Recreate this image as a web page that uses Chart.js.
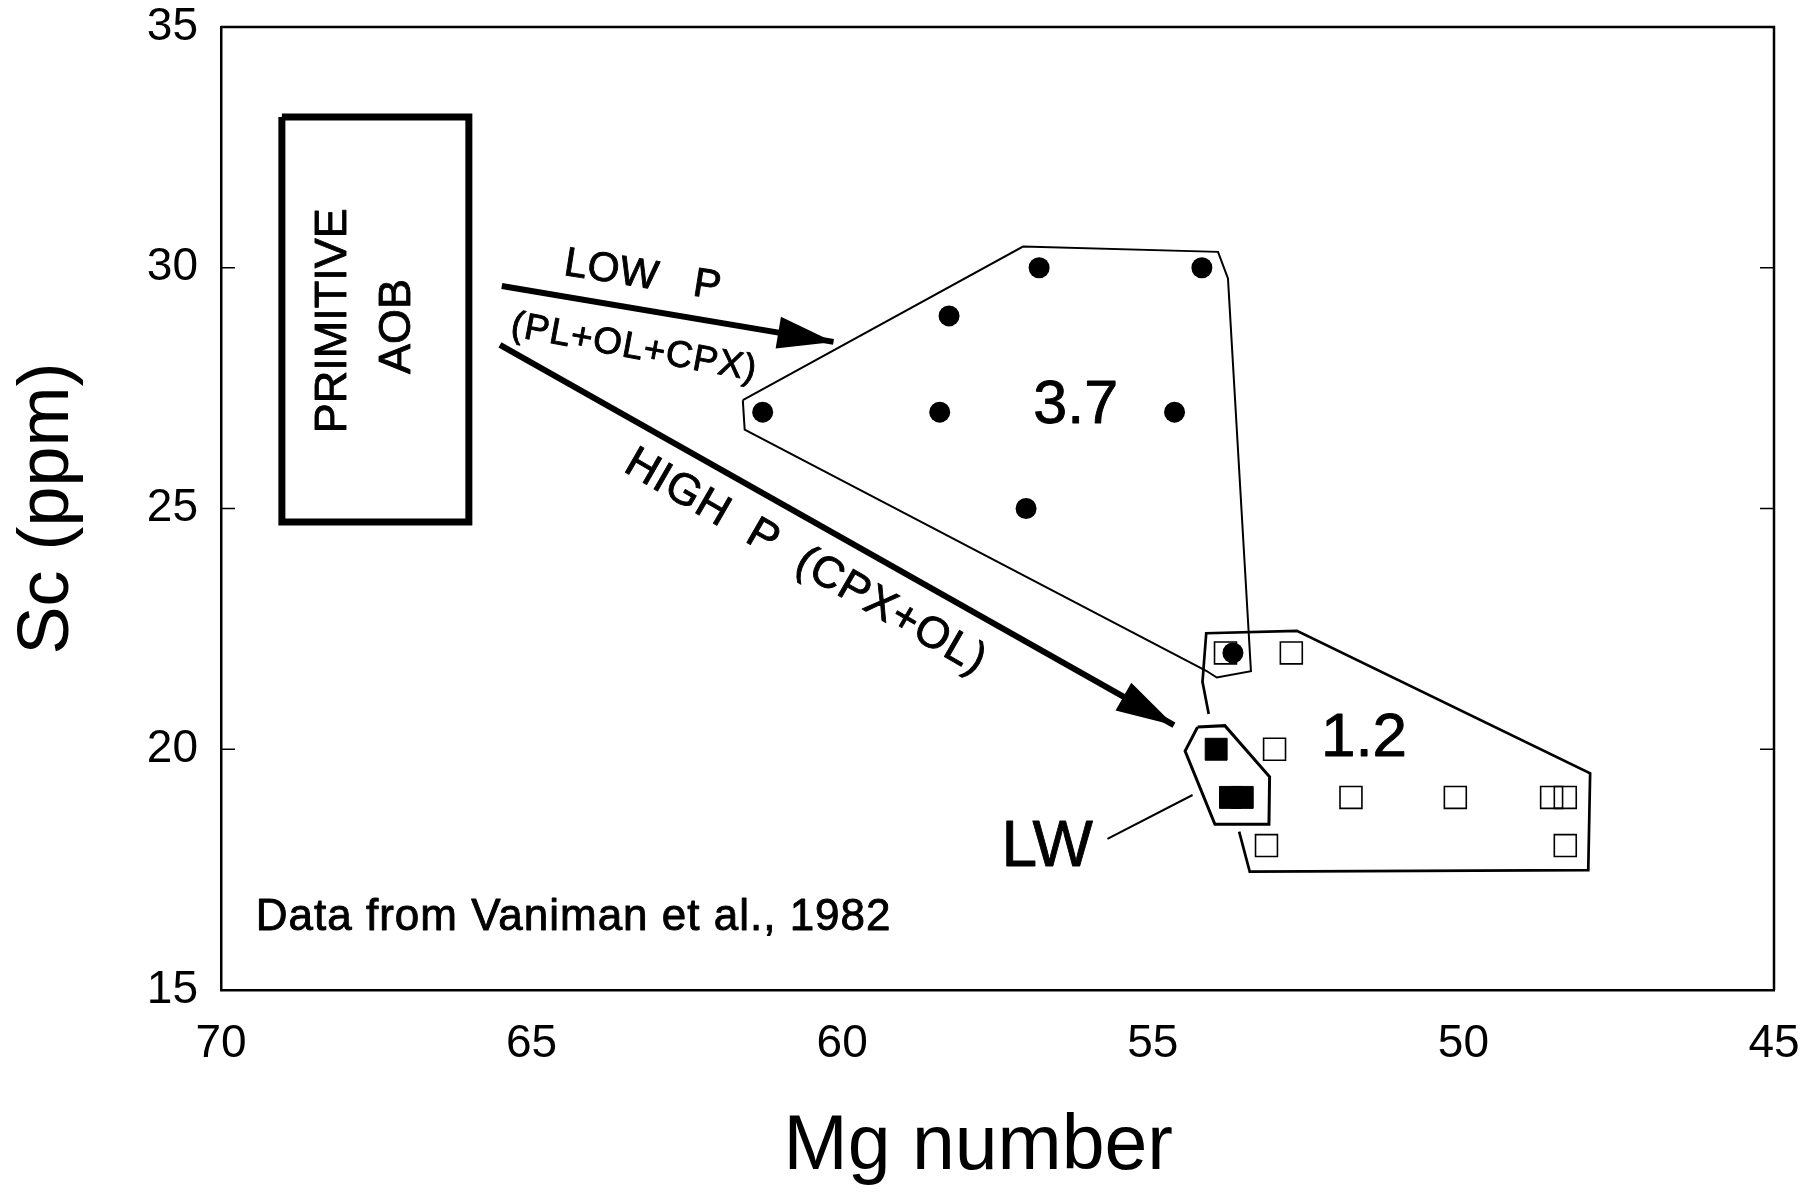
<!DOCTYPE html>
<html>
<head>
<meta charset="utf-8">
<script src="https://cdn.jsdelivr.net/npm/chart.js@4.4.1/dist/chart.umd.min.js"></script>
<style>
  html, body { margin: 0; padding: 0; background: #ffffff; }
  #wrap { width: 1806px; height: 1198px; }
</style>
</head>
<body>
<div id="wrap"><canvas id="c" width="1806" height="1198"></canvas></div>
<script>
const FONT = '"Liberation Sans", Arial, Helvetica, sans-serif';

// ---- axis ticks ----
const mgTicks = [70, 65, 60, 55, 50, 45];
const scTicks = [15, 20, 25, 30, 35];

// ---- data points ----
const circleMg = [61.28, 58.43, 58.28, 56.83, 54.21, 54.65, 57.04, 53.71];
const circleSc = [27, 27, 29, 30, 30, 27, 25, 22];

const openSqMg = [53.83, 52.77, 53.04, 51.81, 50.13, 48.58, 48.36, 53.17, 48.36];
const openSqSc = [22, 22, 20, 19, 19, 19, 19, 18, 18];

const lwSqMg = [53.98, 53.75, 53.56];
const lwSqSc = [20, 19, 19];

// ---- field outlines ----
const field37Mg = [61.60, 57.09, 53.95, 53.79, 53.42, 53.97, 54.14, 61.57, 61.60];
const field37Sc = [27.25, 30.44, 30.33, 29.78, 21.62, 21.49, 21.63, 26.64, 27.25];

const field12Mg = [53.61, 53.44, 47.99, 47.96, 52.68, 54.14, 54.20, 54.10];
const field12Sc = [18.29, 17.46, 17.49, 19.50, 22.46, 22.41, 21.40, 20.73];

const fieldLWMg = [54.28, 53.84, 53.12, 53.13, 54.00, 54.48, 54.28];
const fieldLWSc = [20.46, 20.49, 19.43, 18.44, 18.44, 19.96, 20.46];

const lwLeaderMg = [55.73, 54.36];
const lwLeaderSc = [18.14, 19.05];

const aobBoxMg = [69.02, 66.01, 66.01, 69.02, 69.02];
const aobBoxSc = [33.13, 33.13, 24.72, 24.72, 33.13];

// ---- trend arrows ----
const lowPMg = [65.48, 60.14];
const lowPSc = [29.62, 28.46];
const highPMg = [65.51, 54.66];
const highPSc = [28.40, 20.50];

// ---- annotations ----
const noteText = ['PRIMITIVE', 'AOB', 'LOW   P', '(PL+OL+CPX)', 'HIGH  P  (CPX+OL)', '3.7', '1.2', 'LW', 'Data from Vaniman et al., 1982'];
const noteMg = [68.19, 67.15, 63.21, 63.35, 60.59, 56.24, 51.60, 56.70, 69.44];
const noteSc = [28.90, 28.78, 29.83, 28.33, 23.88, 26.77, 19.87, 17.58, 16.25];

// styles for annotations (kept separate from values)
const noteStyle = [
  { size: 45, rot: -90, align: 'center', base: 'middle', ls: 0 },
  { size: 45, rot: -90, align: 'center', base: 'middle', ls: 0 },
  { size: 41, rot: 9, align: 'center', base: 'middle', ls: 0.5 },
  { size: 37, rot: 10.5, align: 'center', base: 'middle', ls: 1 },
  { size: 44, rot: 30, align: 'center', base: 'middle', ls: 1 },
  { size: 61, rot: 0, align: 'center', base: 'alphabetic', ls: 0 },
  { size: 62, rot: 0, align: 'center', base: 'alphabetic', ls: 0 },
  { size: 64, rot: 0, align: 'center', base: 'alphabetic', ls: 0 },
  { size: 44, rot: 0, align: 'left', base: 'alphabetic', ls: 1 }
];

const pts = (xs, ys) => xs.map((v, i) => ({ x: v, y: ys[i] }));

const lineDs = (xs, ys, w, order, extra) => Object.assign({
  type: 'scatter',
  data: pts(xs, ys),
  showLine: true,
  borderColor: '#000',
  backgroundColor: '#000',
  borderWidth: w,
  pointRadius: 0,
  tension: 0,
  fill: false,
  order: order,
  borderJoinStyle: 'miter',
  borderCapStyle: 'butt'
}, extra || {});

const zeroPad = s => { s.paddingLeft = 0; s.paddingRight = 0; s.paddingTop = 0; s.paddingBottom = 0; };

const frameTicks = {
  id: 'frameTicks',
  afterDraw(chart) {
    const { ctx, chartArea: a, scales: { y } } = chart;
    ctx.save();
    ctx.strokeStyle = '#000';
    ctx.lineWidth = 2.5;
    ctx.beginPath();
    ctx.moveTo(a.left, a.top);
    ctx.lineTo(a.right, a.top);
    ctx.lineTo(a.right, a.bottom);
    ctx.stroke();
    ctx.lineWidth = 1.5;
    const L = 14;
    ctx.beginPath();
    y.ticks.forEach(t => {
      if (t.value === y.min || t.value === y.max) return;
      const p = y.getPixelForValue(t.value);
      ctx.moveTo(a.left, p); ctx.lineTo(a.left + L, p);
      ctx.moveTo(a.right, p); ctx.lineTo(a.right - L, p);
    });
    ctx.stroke();
    ctx.restore();
  }
};

const arrowHeads = {
  id: 'arrowHeads',
  afterDatasetsDraw(chart) {
    const ctx = chart.ctx;
    chart.data.datasets.forEach((ds, i) => {
      if (!ds.arrowHead) return;
      const meta = chart.getDatasetMeta(i);
      const n = meta.data.length;
      const p1 = meta.data[n - 2], p2 = meta.data[n - 1];
      const ang = Math.atan2(p2.y - p1.y, p2.x - p1.x);
      const len = ds.arrowHead.length, hw = ds.arrowHead.halfWidth;
      ctx.save();
      ctx.translate(p2.x, p2.y);
      ctx.rotate(ang);
      ctx.fillStyle = '#000';
      ctx.beginPath();
      ctx.moveTo(0, 0);
      ctx.lineTo(-len, -hw);
      ctx.lineTo(-len, hw);
      ctx.closePath();
      ctx.fill();
      ctx.restore();
    });
  }
};

const notes = {
  id: 'notes',
  afterDatasetsDraw(chart) {
    const { ctx, scales: { x, y } } = chart;
    noteText.forEach((txt, i) => {
      const st = noteStyle[i];
      const px = x.getPixelForValue(noteMg[i]);
      const py = y.getPixelForValue(noteSc[i]);
      ctx.save();
      ctx.translate(px, py);
      ctx.rotate(st.rot * Math.PI / 180);
      ctx.fillStyle = '#000';
      ctx.strokeStyle = '#000';
      ctx.lineWidth = 0.9;
      ctx.lineJoin = 'round';
      ctx.font = st.size + 'px ' + FONT;
      if ('letterSpacing' in ctx) ctx.letterSpacing = st.ls + 'px';
      ctx.textAlign = st.align;
      ctx.textBaseline = st.base;
      ctx.fillText(txt, 0, 0);
      ctx.strokeText(txt, 0, 0);
      ctx.restore();
    });
  }
};

new Chart(document.getElementById('c'), {
  type: 'scatter',
  data: {
    datasets: [
      {
        data: pts(circleMg, circleSc),
        pointStyle: 'circle',
        pointRadius: 10.5,
        backgroundColor: '#000',
        borderColor: '#000',
        borderWidth: 0,
        order: 0
      },
      {
        data: pts(lwSqMg, lwSqSc),
        pointStyle: 'rect',
        pointRadius: 15.5,
        backgroundColor: '#000',
        borderColor: '#000',
        borderWidth: 1,
        order: 1
      },
      {
        data: pts(openSqMg, openSqSc),
        pointStyle: 'rect',
        pointRadius: 15.5,
        backgroundColor: 'rgba(0,0,0,0)',
        borderColor: '#000',
        borderWidth: 1.6,
        order: 2
      },
      lineDs(field37Mg, field37Sc, 2, 3),
      lineDs(field12Mg, field12Sc, 2.7, 3),
      lineDs(fieldLWMg, fieldLWSc, 3, 3),
      lineDs(lwLeaderMg, lwLeaderSc, 2, 3),
      lineDs(aobBoxMg, aobBoxSc, 7, 3),
      lineDs(lowPMg, lowPSc, 6, 3, { arrowHead: { length: 56, halfWidth: 16 } }),
      lineDs(highPMg, highPSc, 6, 3, { arrowHead: { length: 58, halfWidth: 16 } })
    ]
  },
  options: {
    responsive: false,
    animation: false,
    devicePixelRatio: 1,
    events: [],
    layout: { padding: { left: 0, top: 27, right: 32, bottom: 0 } },
    plugins: {
      legend: { display: false },
      tooltip: { enabled: false },
      title: { display: false }
    },
    scales: {
      x: {
        type: 'linear',
        position: 'bottom',
        reverse: true,
        min: 45,
        max: 70,
        afterBuildTicks: s => { s.ticks = mgTicks.map(v => ({ value: v })); },
        afterFit: s => { s.height = 208; zeroPad(s); },
        grid: { display: false, drawTicks: false },
        border: { display: true, color: '#000', width: 2.5 },
        ticks: { color: '#000', font: { family: FONT, size: 46, lineHeight: 1.0 }, padding: 31, autoSkip: false, maxRotation: 0 },
        title: { display: true, text: 'Mg number\u2002', color: '#000', font: { family: FONT, size: 77 }, padding: { top: 0, bottom: 4 } }
      },
      y: {
        type: 'linear',
        position: 'left',
        min: 15,
        max: 35,
        afterBuildTicks: s => { s.ticks = scTicks.map(v => ({ value: v })); },
        afterFit: s => { s.width = 221; zeroPad(s); },
        grid: { display: false, drawTicks: false },
        border: { display: true, color: '#000', width: 2.5 },
        ticks: { color: '#000', font: { family: FONT, size: 46, lineHeight: 1.0 }, padding: 23 },
        title: { display: true, text: 'Sc (ppm)', color: '#000', font: { family: FONT, size: 72 }, padding: { top: 5, bottom: 0 } }
      }
    }
  },
  plugins: [frameTicks, arrowHeads, notes]
});
</script>
</body>
</html>
